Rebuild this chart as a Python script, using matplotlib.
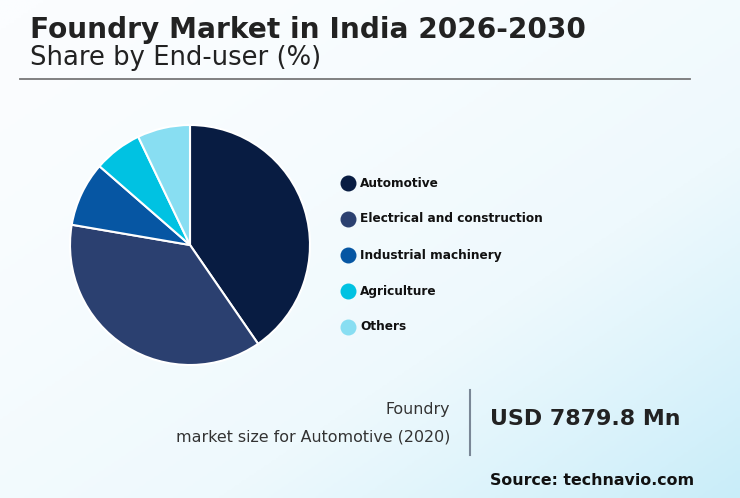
import numpy as np
import matplotlib
matplotlib.use('Agg')
import matplotlib.pyplot as plt
from matplotlib.colors import LinearSegmentedColormap

plt.rcParams['font.family'] = ['DejaVu Sans']

# Dados
segments = ['Automotive', 'Electrical and construction', 'Industrial machinery',
            'Agriculture', 'Others']
shares = [40.4, 37.3, 8.7, 6.5, 7.1]
colors = ['#081c42', '#2b4070', '#0656a3', '#00c2e2', '#88def2']

title = 'Foundry Market in India 2026-2030'
subtitle = 'Share by End-user (%)'
kpi_label = ['Foundry', 'market size for Automotive (2020)']
kpi_value = 'USD 7879.8 Mn'
source = 'Source: technavio.com'

W, H = 740, 498
fig = plt.figure(figsize=(W / 100, H / 100), dpi=100)

# ── fundo em gradiente diagonal ─────────────────────────────────────────
bg = fig.add_axes([0, 0, 1, 1], zorder=0)
gx, gy = np.meshgrid(np.linspace(0, 1, 300), np.linspace(0, 1, 200))
g = np.clip((gx + gy) / 2, 0, 1) ** 1.6
cmap_bg = LinearSegmentedColormap.from_list('bg', ['#fbfdff', '#eef9fd', '#c9edf9'])
bg.imshow(g, cmap=cmap_bg, aspect='auto', extent=[0, 1, 0, 1], origin='upper')
bg.set_xlim(0, 1)
bg.set_ylim(0, 1)
bg.axis('off')


def px(x, y):
    return x / W, 1 - y / H


# ── títulos ─────────────────────────────────────────────────────────────
fig.text(*px(30, 30), title, fontsize=20.2, fontweight='bold', color='#222222',
         va='center', ha='left')
fig.text(*px(30, 58), subtitle, fontsize=18.6, color='#222222', va='center', ha='left')
bg.plot([20 / W, 690 / W], [1 - 79 / H, 1 - 79 / H], color='#777777', lw=1.3)

# ── pizza ───────────────────────────────────────────────────────────────
R = 120
ax = fig.add_axes([(190 - R) / W, (H - 245 - R) / H, 2 * R / W, 2 * R / H], zorder=2)
ax.pie(shares, colors=colors, startangle=90, counterclock=False,
       wedgeprops=dict(edgecolor='white', linewidth=1.5))
ax.set_xlim(-1, 1)
ax.set_ylim(-1, 1)
ax.set_aspect('auto')
ax.axis('off')

# ── legenda ─────────────────────────────────────────────────────────────
for i, (lab, col) in enumerate(zip(segments, colors)):
    yy = 183 + 36 * i
    bg.scatter([348 / W], [1 - yy / H], s=110, color=col, zorder=3)
    fig.text(*px(360, yy), lab, fontsize=8.7, fontweight='bold', color='#111111',
             va='center', ha='left')

# ── destaque inferior ───────────────────────────────────────────────────
fig.text(*px(450, 409), kpi_label[0], fontsize=11.4, color='#333333', va='center', ha='right')
fig.text(*px(450, 437), kpi_label[1], fontsize=11.4, color='#333333', va='center', ha='right')
bg.plot([470 / W, 470 / W], [1 - 390 / H, 1 - 455 / H], color='#7a8796', lw=1.5)
fig.text(*px(490, 419), kpi_value, fontsize=15.9, fontweight='bold', color='#222222',
         va='center', ha='left')
fig.text(*px(490, 480), source, fontsize=11.4, fontweight='bold', color='#111111',
         va='center', ha='left')

fig.savefig('out.png', dpi=100)
